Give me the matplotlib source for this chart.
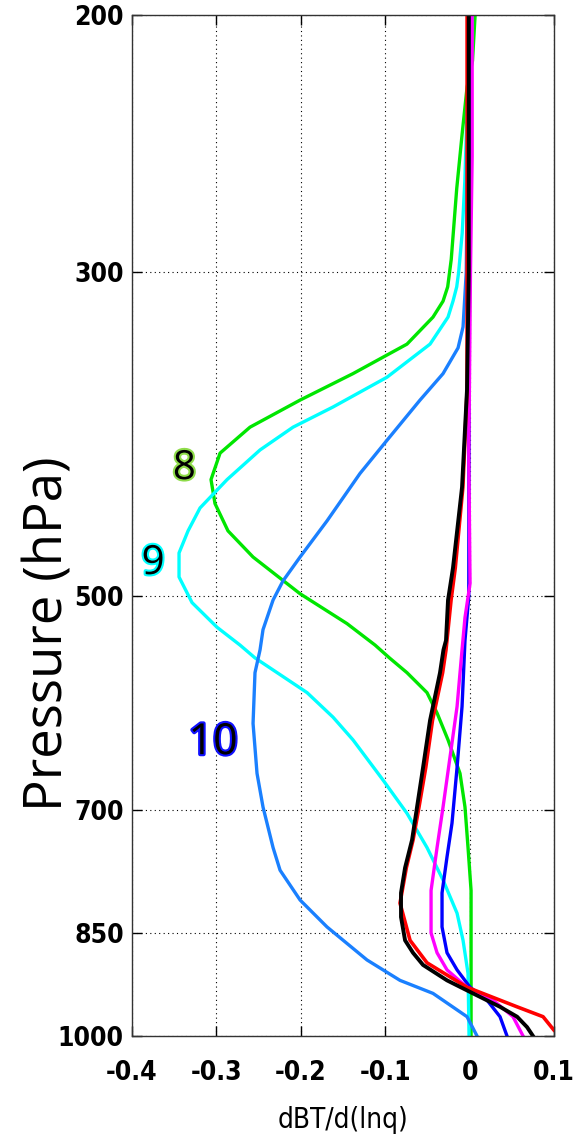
import matplotlib
matplotlib.use("Agg")
import matplotlib.pyplot as plt
import matplotlib.patheffects as pe

# pressure levels (hPa) and dBT/d(lnq) for each curve
p_green = [200, 215, 224, 241, 263, 294, 307, 314, 322, 336, 343, 352, 367, 383, 399, 416,
           432, 451, 470, 498, 522, 540, 551, 564, 582, 601, 627, 661, 697, 743, 795, 860, 1000]
x_green = [0.0065, 0.0034, -0.003, -0.0088, -0.0153, -0.0218, -0.026, -0.0315, -0.0434, -0.0742,
           -0.1026, -0.1382, -0.2009, -0.2602, -0.2957, -0.3064, -0.3017, -0.2863, -0.2566,
           -0.2009, -0.1453, -0.112, -0.095, -0.0742, -0.0505, -0.0386, -0.0256, -0.0114,
           -0.0055, -0.0019, 0.0017, 0.0017, 0.0017]

p_cyan = [200, 215, 232, 260, 282, 300, 307, 314, 322, 336, 354, 371, 383, 397, 416, 435, 451,
          467, 485, 505, 525, 540, 551, 582, 605, 627, 668, 704, 743, 782, 824, 860, 906, 1000]
x_cyan = [0.003, 0.002, -0.003, -0.0057, -0.0088, -0.013, -0.0153, -0.0197, -0.0256, -0.0469,
          -0.0979, -0.1618, -0.2092, -0.2483, -0.2874, -0.3194, -0.3336, -0.3443, -0.3443,
          -0.3289, -0.2993, -0.272, -0.2543, -0.1926, -0.1618, -0.1382, -0.1026, -0.0742,
          -0.0505, -0.0315, -0.0149, -0.0078, -0.0019, -0.0007]

p_dodger = [200, 260, 300, 327, 338, 352, 367, 391, 412, 444, 470, 488, 503, 527, 544, 564, 611,
            661, 697, 743, 770, 807, 842, 887, 916, 935, 970, 1000]
x_dodger = [-0.0005, -0.003, -0.004, -0.0078, -0.0137, -0.0315, -0.0588, -0.0979, -0.1299,
            -0.169, -0.2009, -0.2211, -0.2329, -0.2448, -0.2483, -0.2543, -0.2566, -0.2519,
            -0.2448, -0.2329, -0.2246, -0.2009, -0.169, -0.1216, -0.0825, -0.0434, -0.0031, 0.0088]

p_blue = [200, 500, 536, 595, 655, 715, 754, 798, 842, 877, 901, 926, 945, 970, 1000]
x_blue = [0.0, -0.001, -0.0055, -0.009, -0.0149, -0.0209, -0.0268, -0.0327, -0.0327, -0.0268,
          -0.0149, 0.0005, 0.0206, 0.036, 0.0443]

p_magenta = [200, 250, 300, 400, 490, 517, 544, 595, 644, 697, 743, 795, 850, 877, 901, 926,
             945, 970, 1000]
x_magenta = [0.003, 0.003, 0.001, -0.001, 0.0005, -0.0055, -0.009, -0.0149, -0.0232, -0.0315,
             -0.0386, -0.0457, -0.0457, -0.0386, -0.0268, -0.0031, 0.0277, 0.0514, 0.0633]

p_red = [200, 300, 361, 421, 478, 503, 544, 564, 608, 655, 697, 734, 767, 811, 860, 891, 926,
         955, 970, 991, 1000]
x_red = [-0.003, -0.003, -0.003, -0.008, -0.017, -0.022, -0.028, -0.032, -0.044, -0.052, -0.06,
         -0.067, -0.075, -0.0825, -0.0706, -0.0505, -0.0031, 0.0562, 0.087, 0.1, 0.108]

p_black = [200, 300, 361, 421, 478, 503, 536, 544, 564, 608, 655, 697, 734, 767, 798, 829, 860,
           877, 894, 916, 935, 955, 970, 986, 1000]
x_black = [-0.001, -0.001, -0.0031, -0.009, -0.0197, -0.0256, -0.028, -0.031, -0.0351, -0.0469,
           -0.0552, -0.0623, -0.0682, -0.0765, -0.0813, -0.0813, -0.0765, -0.0671, -0.0552,
           -0.0268, 0.004, 0.036, 0.0562, 0.068, 0.0751]

y_ticks = [200, 300, 500, 700, 850, 1000]
x_ticks = [-0.4, -0.3, -0.2, -0.1, 0, 0.1]
x_tick_labels = ["-0.4", "-0.3", "-0.2", "-0.1", "0", "0.1"]

narrow = ["DejaVu Sans"]

fig = plt.figure(figsize=(5.77, 11.35), dpi=100)
ax = fig.add_axes([0.2288, 0.0872, 0.7314, 0.8996])

ax.plot(x_green, p_green, color="#00e600", lw=2.4)
ax.plot(x_cyan, p_cyan, color="#00ffff", lw=2.4)
ax.plot(x_dodger, p_dodger, color="#1a80ff", lw=2.4)
ax.plot(x_blue, p_blue, color="#0000ff", lw=2.4)
ax.plot(x_magenta, p_magenta, color="#ff00ff", lw=2.4)
ax.plot(x_red, p_red, color="#ff0000", lw=2.6)
ax.plot(x_black, p_black, color="black", lw=2.8)

ax.set_yscale("log")
ax.set_ylim(1000, 200)
ax.set_xlim(-0.4, 0.1)
ax.set_yticks(y_ticks)
ax.set_yticklabels([str(v) for v in y_ticks])
ax.yaxis.set_minor_locator(matplotlib.ticker.NullLocator())
ax.set_xticks(x_ticks)
ax.set_xticklabels(x_tick_labels)

ax.grid(True, color="black", linestyle=(0, (1, 3)), lw=0.8)
ax.tick_params(direction="in", length=7, width=1, top=True, right=True)
ax.tick_params(axis="y", pad=6, labelsize=19)
ax.tick_params(axis="x", pad=17, labelsize=19)
for lab in ax.get_xticklabels() + ax.get_yticklabels():
    lab.set_family(narrow)
    lab.set_stretch("condensed")
    lab.set_weight("bold")
for s in ax.spines.values():
    s.set_color("#333333")
    s.set_linewidth(1)

fig.text(0.5945, 0.0132, "dBT/d(lnq)", ha="center", va="center", fontsize=20,
         family=narrow, stretch="condensed")
fig.text(0.0849, 0.4414, "Pressure (hPa)", rotation=90, ha="center", va="center",
         fontsize=38, family=["Open Sans", "DejaVu Sans"])

ax.text(-0.338, 409, "8", ha="center", va="center", fontsize=29, family=["Open Sans", "DejaVu Sans"],
        color="black", path_effects=[pe.withStroke(linewidth=3, foreground="#8fdc4a")])
ax.text(-0.375, 475, "9", ha="center", va="center", fontsize=29, family=["Open Sans", "DejaVu Sans"],
        color="black", path_effects=[pe.withStroke(linewidth=3, foreground="#00ffff")])
ax.text(-0.304, 630, "10", ha="center", va="center", fontsize=31, family=["Open Sans", "DejaVu Sans"],
        color="black", path_effects=[pe.withStroke(linewidth=3, foreground="#1010ff")])

fig.savefig("out.png", dpi=100)
